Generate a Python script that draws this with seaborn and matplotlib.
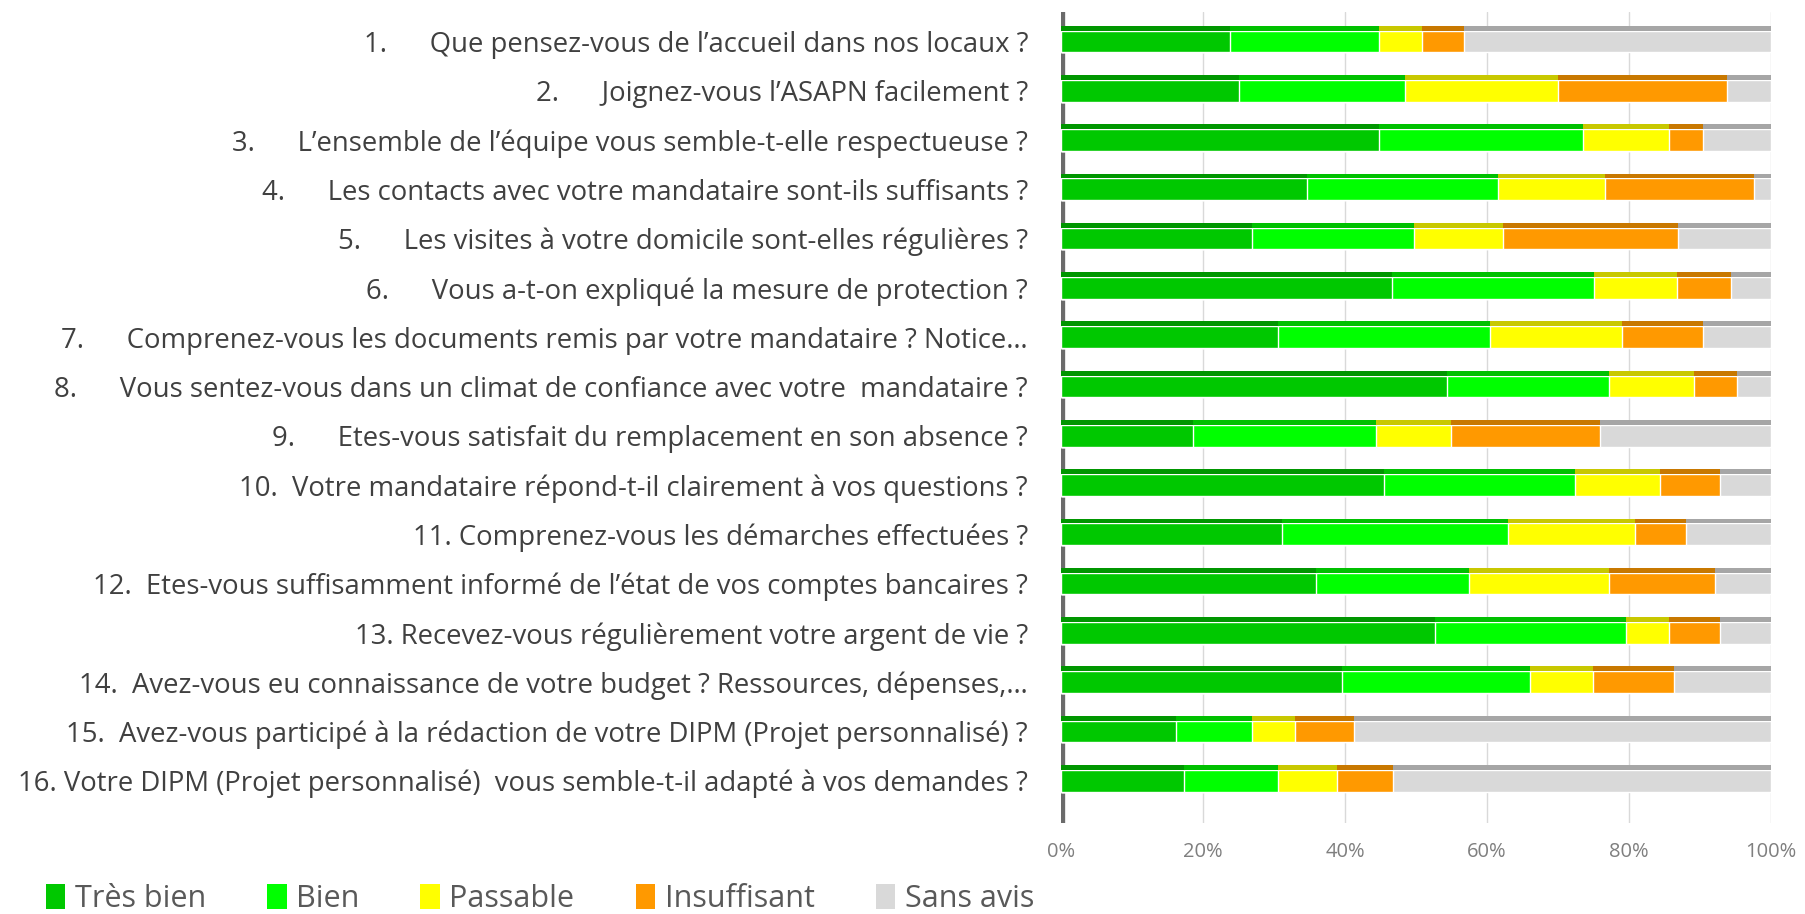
import numpy as np
import pandas as pd
import matplotlib.pyplot as plt
import seaborn as sns
from matplotlib.patches import Patch

questions = [
    "1.      Que pensez-vous de l\u2019accueil dans nos locaux ?",
    "2.      Joignez-vous l\u2019ASAPN facilement ?",
    "3.      L\u2019ensemble de l\u2019\u00e9quipe vous semble-t-elle respectueuse ?",
    "4.      Les contacts avec votre mandataire sont-ils suffisants ?",
    "5.      Les visites \u00e0 votre domicile sont-elles r\u00e9guli\u00e8res ?",
    "6.      Vous a-t-on expliqu\u00e9 la mesure de protection ?",
    "7.      Comprenez-vous les documents remis par votre mandataire ? Notice\u2026",
    "8.      Vous sentez-vous dans un climat de confiance avec votre  mandataire ?",
    "9.      Etes-vous satisfait du remplacement en son absence ?",
    "10.  Votre mandataire r\u00e9pond-t-il clairement \u00e0 vos questions ?",
    "11. Comprenez-vous les d\u00e9marches effectu\u00e9es ?",
    "12.  Etes-vous suffisamment inform\u00e9 de l\u2019\u00e9tat de vos comptes bancaires ?",
    "13. Recevez-vous r\u00e9guli\u00e8rement votre argent de vie ?",
    "14.  Avez-vous eu connaissance de votre budget ? Ressources, d\u00e9penses,\u2026",
    "15.  Avez-vous particip\u00e9 \u00e0 la r\u00e9daction de votre DIPM (Projet personnalis\u00e9) ?",
    "16. Votre DIPM (Projet personnalis\u00e9)  vous semble-t-il adapt\u00e9 \u00e0 vos demandes ?",
]

tres_bien   = [23.8, 25.1, 44.8, 34.7, 26.9, 46.6, 30.5, 54.4, 18.5, 45.5, 31.1, 35.9, 52.7, 39.5, 16.1, 17.3]
bien        = [21.0, 23.3, 28.8, 26.9, 22.8, 28.5, 29.9, 22.8, 25.8, 26.9, 31.8, 21.5, 26.9, 26.5, 10.8, 13.2]
passable    = [6.1, 21.6, 12.0, 15.1, 12.6, 11.7, 18.6, 12.0, 10.7, 12.0, 18.0, 19.8, 6.0, 8.9, 6.0, 8.4]
insuffisant = [5.9, 23.9, 4.8, 20.9, 24.6, 7.6, 11.4, 6.1, 21.0, 8.4, 7.2, 15.0, 7.2, 11.4, 8.3, 7.8]
sans_avis   = [43.2, 6.1, 9.6, 2.4, 13.1, 5.6, 9.6, 4.7, 24.0, 7.2, 11.9, 7.8, 7.2, 13.7, 58.8, 53.3]

categories = ["Tr\u00e8s bien", "Bien", "Passable", "Insuffisant", "Sans avis"]
front_colors = ["#00C800", "#00FF00", "#FFFF00", "#FF9900", "#D9D9D9"]
top_colors = ["#009600", "#00C000", "#C8C800", "#C87800", "#A6A6A6"]

df = pd.DataFrame({"question": questions, "Tr\u00e8s bien": tres_bien, "Bien": bien,
                   "Passable": passable, "Insuffisant": insuffisant, "Sans avis": sans_avis})
starts = df[categories].cumsum(axis=1) - df[categories]
ends = df[categories].cumsum(axis=1)

sns.set_style("white")
plt.rcParams['font.family'] = ['Open Sans', 'DejaVu Sans']

fig = plt.figure(figsize=(18.05, 9.14), dpi=100)
ax = fig.add_axes([0.588, 0.1, 0.393, 0.887])

# stacked bars: draw cumulative totals from the last category down
for cat, col in reversed(list(zip(categories, front_colors))):
    sns.barplot(x=ends[cat], y=df["question"], orient="h", color=col, saturation=1,
                width=0.44, ax=ax, zorder=3)

# darker top face to mimic the 3D look
ypos = np.arange(len(questions))
for cat, col in zip(categories, top_colors):
    ax.barh(ypos - 0.27, df[cat], left=starts[cat], height=0.1, color=col, zorder=3, linewidth=0)

ax.set_xlim(0, 100)
ax.set_ylim(15.85, -0.6)
ax.set_xticks([0, 20, 40, 60, 80, 100])
ax.set_xticklabels(["0%", "20%", "40%", "60%", "80%", "100%"])
ax.tick_params(axis="x", labelsize=14.5, labelcolor="#7F7F7F", length=0, pad=14)
ax.tick_params(axis="y", labelsize=19.8, labelcolor="#404040", length=0, pad=24)
ax.set_xlabel("")
ax.set_ylabel("")
for x in [20, 40, 60, 80, 100]:
    ax.axvline(x, color="#D9D9D9", lw=1, zorder=1)
ax.axvline(0, color="#6B6B6B", lw=6, zorder=2)
for s in ax.spines.values():
    s.set_visible(False)

handles = [Patch(facecolor=c, edgecolor="none") for c in front_colors]
fig.legend(handles, categories, loc="lower left", bbox_to_anchor=(0.01, -0.03), ncol=5,
           frameon=False, fontsize=22, labelcolor="#595959", handlelength=0.65, handleheight=0.9,
           handletextpad=0.3, columnspacing=2.0)

fig.savefig("out.png", dpi=100)
